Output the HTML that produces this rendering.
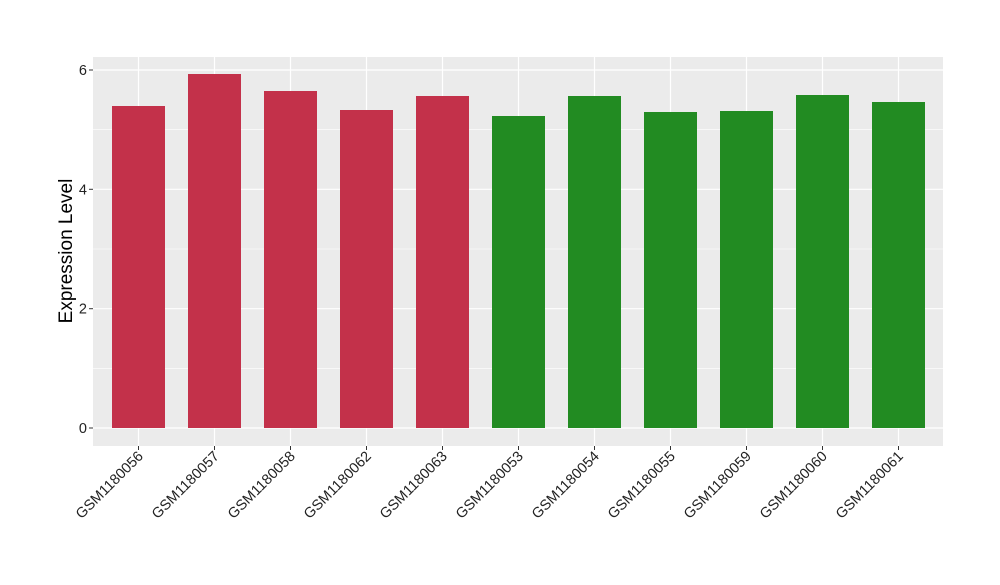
<!DOCTYPE html><html><head><style>body{margin:0;background:#fff}</style></head><body>
<svg width="1000" height="580" xmlns="http://www.w3.org/2000/svg" font-family="Liberation Sans, sans-serif">
<rect x="93" y="57" width="850" height="389" fill="#ebebeb"/>
<g stroke="#fff" stroke-width="0.6">
<line x1="93" x2="943" y1="368.3" y2="368.3"/><line x1="93" x2="943" y1="249" y2="249"/><line x1="93" x2="943" y1="129.7" y2="129.7"/>
</g>
<g stroke="#fff" stroke-width="1.2">
<line x1="93" x2="943" y1="428" y2="428"/><line x1="93" x2="943" y1="308.7" y2="308.7"/><line x1="93" x2="943" y1="189.3" y2="189.3"/><line x1="93" x2="943" y1="70" y2="70"/>
<line x1="138.5" x2="138.5" y1="57" y2="446"/><line x1="214.5" x2="214.5" y1="57" y2="446"/><line x1="290.5" x2="290.5" y1="57" y2="446"/><line x1="366.5" x2="366.5" y1="57" y2="446"/><line x1="442.5" x2="442.5" y1="57" y2="446"/><line x1="518.5" x2="518.5" y1="57" y2="446"/><line x1="594.5" x2="594.5" y1="57" y2="446"/><line x1="670.5" x2="670.5" y1="57" y2="446"/><line x1="746.5" x2="746.5" y1="57" y2="446"/><line x1="822.5" x2="822.5" y1="57" y2="446"/><line x1="898.5" x2="898.5" y1="57" y2="446"/>
</g>
<g fill="#c3314a">
<rect x="112" y="106" width="53" height="322"/><rect x="188" y="74" width="53" height="354"/><rect x="264" y="91" width="53" height="337"/><rect x="340" y="110" width="53" height="318"/><rect x="416" y="96" width="53" height="332"/>
</g>
<g fill="#228b22">
<rect x="492" y="116" width="53" height="312"/><rect x="568" y="96" width="53" height="332"/><rect x="644" y="112" width="53" height="316"/><rect x="720" y="111" width="53" height="317"/><rect x="796" y="95" width="53" height="333"/><rect x="872" y="102" width="53" height="326"/>
</g>
<g stroke="#333" stroke-width="1">
<line x1="89" x2="93" y1="428" y2="428"/><line x1="89" x2="93" y1="308.7" y2="308.7"/><line x1="89" x2="93" y1="189.3" y2="189.3"/><line x1="89" x2="93" y1="70" y2="70"/>
</g>
<g font-size="14.5" fill="#222" text-anchor="end">
<text x="87" y="433">0</text><text x="87" y="313.7">2</text><text x="87" y="194.3">4</text><text x="87" y="75">6</text>
</g>
<g stroke="#333" stroke-width="1">
<line x1="138.5" x2="138.5" y1="446" y2="450"/><line x1="214.5" x2="214.5" y1="446" y2="450"/><line x1="290.5" x2="290.5" y1="446" y2="450"/><line x1="366.5" x2="366.5" y1="446" y2="450"/><line x1="442.5" x2="442.5" y1="446" y2="450"/><line x1="518.5" x2="518.5" y1="446" y2="450"/><line x1="594.5" x2="594.5" y1="446" y2="450"/><line x1="670.5" x2="670.5" y1="446" y2="450"/><line x1="746.5" x2="746.5" y1="446" y2="450"/><line x1="822.5" x2="822.5" y1="446" y2="450"/><line x1="898.5" x2="898.5" y1="446" y2="450"/>
</g>
<g font-size="14.5" fill="#222" text-anchor="end">
<text transform="translate(144,457) rotate(-45)">GSM1180056</text>
<text transform="translate(220,457) rotate(-45)">GSM1180057</text>
<text transform="translate(296,457) rotate(-45)">GSM1180058</text>
<text transform="translate(372,457) rotate(-45)">GSM1180062</text>
<text transform="translate(448,457) rotate(-45)">GSM1180063</text>
<text transform="translate(524,457) rotate(-45)">GSM1180053</text>
<text transform="translate(600,457) rotate(-45)">GSM1180054</text>
<text transform="translate(676,457) rotate(-45)">GSM1180055</text>
<text transform="translate(752,457) rotate(-45)">GSM1180059</text>
<text transform="translate(828,457) rotate(-45)">GSM1180060</text>
<text transform="translate(904,457) rotate(-45)">GSM1180061</text>
</g>
<text transform="translate(72,251) rotate(-90)" font-size="19" text-anchor="middle" fill="#000">Expression Level</text>
</svg>
</body></html>
